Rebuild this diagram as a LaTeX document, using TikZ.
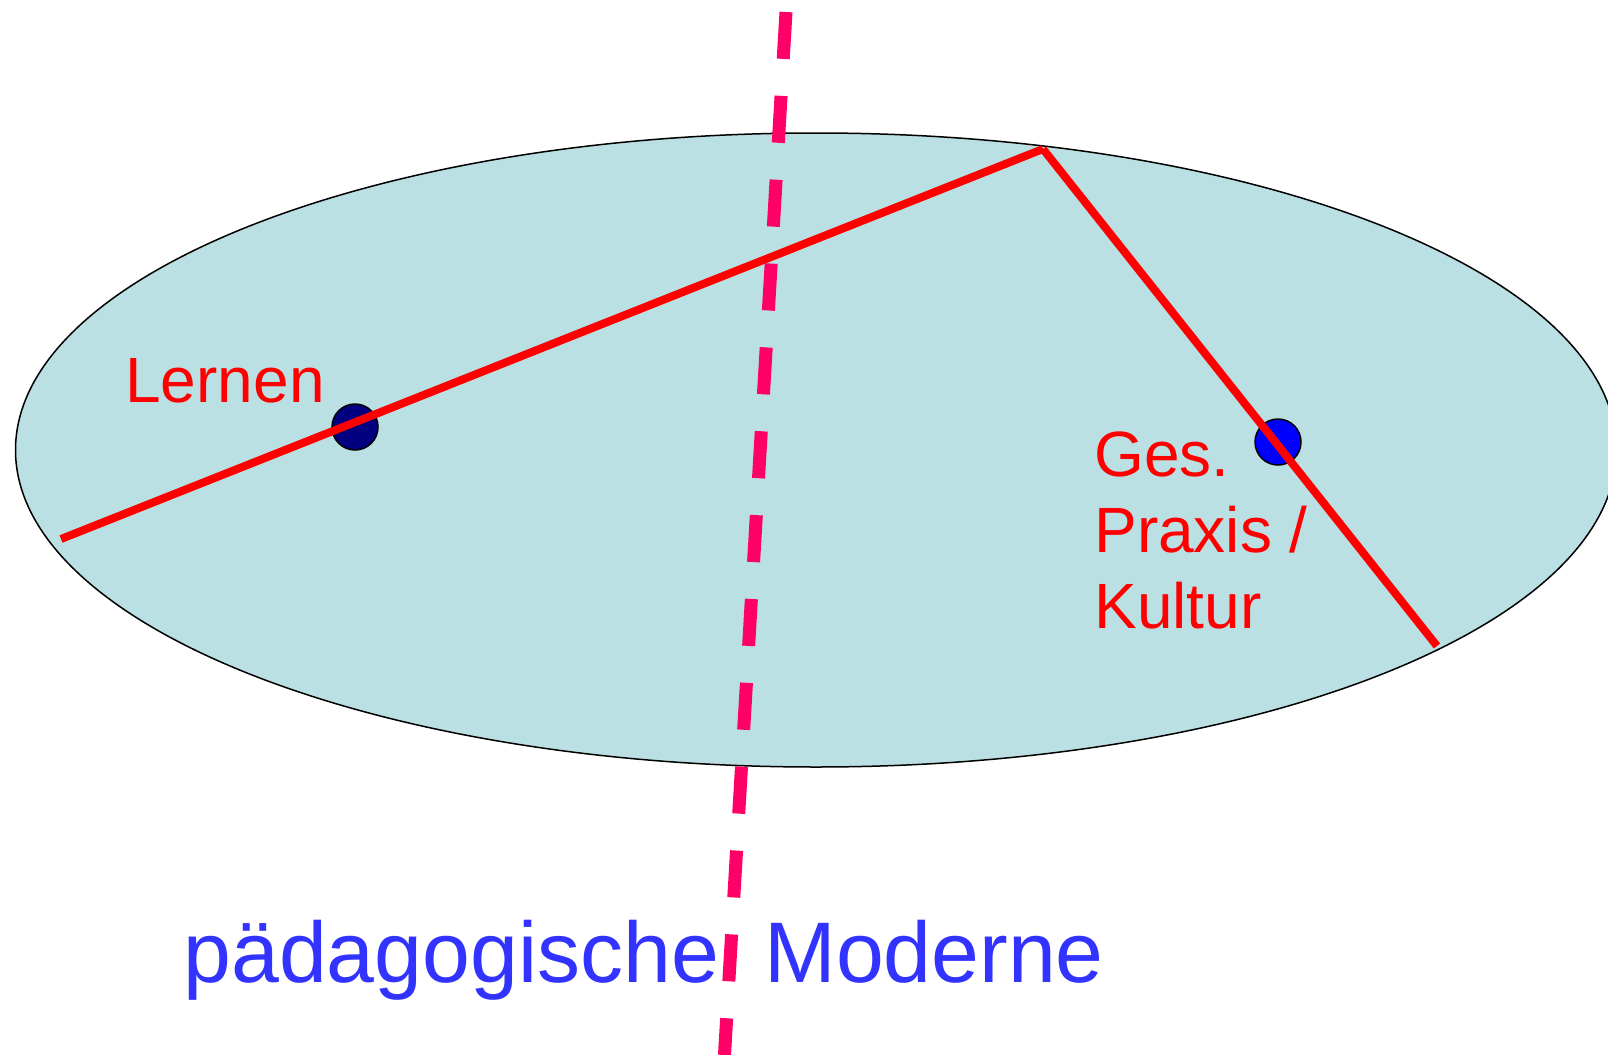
\documentclass[tikz,border=0pt]{standalone}
\usepackage{fontspec}
\setmainfont{Liberation Sans}
\definecolor{ellfill}{RGB}{187,224,227}
\definecolor{dashpink}{RGB}{255,0,102}
\definecolor{txtblue}{RGB}{51,51,255}
\definecolor{navydot}{RGB}{0,0,128}
\begin{document}
\begin{tikzpicture}[x=0.5pt,y=-0.5pt,
  redline/.style={draw=red, line width=4pt},
  sepline/.style={draw=dashpink, line width=6.5pt, dash pattern=on 23.5pt off 18.5pt},
  dotnode/.style={circle, draw=black, line width=0.75pt, minimum size=23pt, inner sep=0pt},
  redlabel/.style={text=red, font=\fontsize{32}{37.8}\selectfont, inner sep=0pt, anchor=base west, align=left},
  bluelabel/.style={text=txtblue, font=\fontsize{43}{50}\selectfont, inner sep=0pt, anchor=base west}]
\useasboundingbox (0,0) rectangle (1608,1055);
\fill[white] (0,0) rectangle (1608,1055);
\filldraw[fill=ellfill, draw=black, line width=0.75pt] (816,450) ellipse [x radius=400.25pt, y radius=158.5pt];
\node[dotnode, fill=navydot] (lern) at (355,427) {};
\node[dotnode, fill=blue] (gesdot) at (1278,442) {};
\coordinate (l1) at (61,539);
\coordinate (apex) at (1043,149);
\coordinate (l2) at (1437,646);
\draw[redline] (l1) -- (apex);
\draw[redline] (apex) -- (l2);
\node[redlabel] (lernen) at (125,402) {Lernen};
\node[redlabel] (praxis) at (1094,628) {Ges.\\Praxis /\\Kultur};
\node[bluelabel] (paed) at (183,982) {pädagogische};
\node[bluelabel] (mod) at (764,982) {Moderne};
\coordinate (dtop) at (786,12);
\coordinate (dbot) at (724.5,1055);
\draw[sepline] (dtop) -- (dbot);
\end{tikzpicture}
\end{document}
